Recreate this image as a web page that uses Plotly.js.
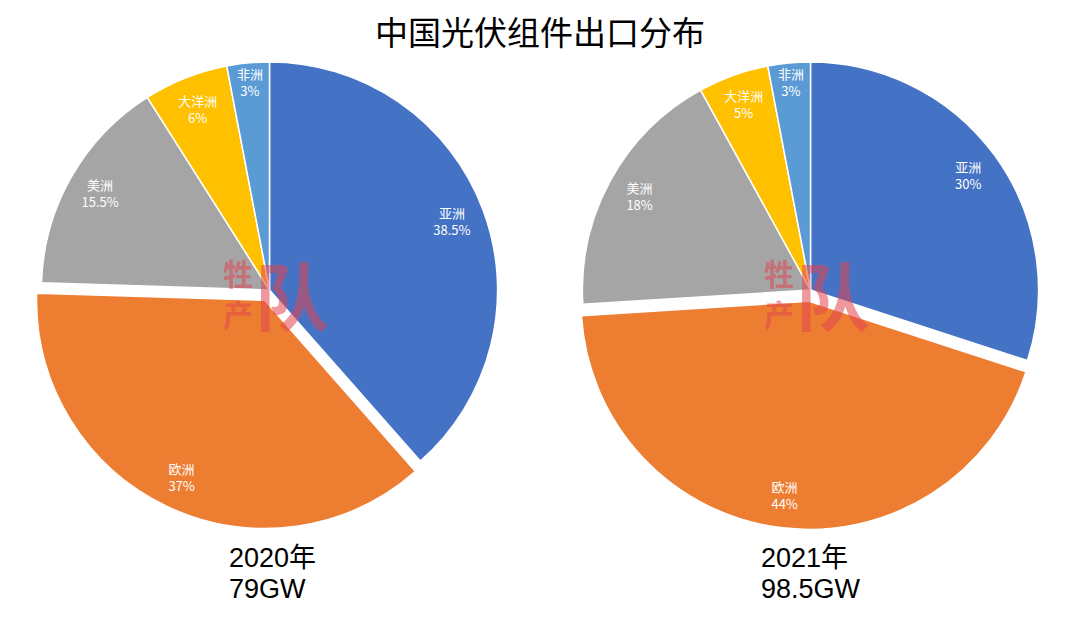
<!DOCTYPE html>
<html>
<head>
<meta charset="utf-8">
<script src="https://cdn.plot.ly/plotly-3.0.1.min.js"></script>
<style>html,body{margin:0;padding:0;background:#fff;}#chart{width:1080px;height:622px;}</style>
</head>
<body>
<div id="chart"></div>
<script>
// ---- data ----
const regions = ['亚洲', '欧洲', '美洲', '大洋洲', '非洲'];
const share2020 = [38.5, 37, 15.5, 6, 3];
const share2021 = [30, 44, 18, 5, 3];
const yearLabels = ['2020年', '2021年'];
const totalLabels = ['79GW', '98.5GW'];
const chartTitle = '中国光伏组件出口分布';
const watermark = ['牲', '产', '队'];

// ---- styles ----
const colors = ['#4472C4', '#ED7D31', '#A5A5A5', '#FFC000', '#5B9BD5'];
const pulls = [0, 0.05, 0, 0, 0];
const W = 1080, H = 622;
const cjk = '"Noto Sans CJK SC", "Noto Sans", sans-serif';
const domains = [
  {x: [30 / W, 509 / W], y: [1 - 529.5 / H, 1 - 50.5 / H]},
  {x: [571 / W, 1050 / W], y: [1 - 529.5 / H, 1 - 50.5 / H]}
];
const centersPx = [269.5, 810.5];
const captionLeftPx = [227, 759];
const series = [share2020, share2021];

const traces = [];
series.forEach((vals, i) => {
  traces.push({
    type: 'pie', values: vals, labels: regions, sort: false,
    direction: 'clockwise', rotation: 0, pull: pulls,
    domain: domains[i],
    marker: {colors: colors, line: {color: '#ffffff', width: 1.5}},
    textinfo: 'none', hoverinfo: 'label+value', showlegend: false
  });
  // transparent ring used only to place labels near the outer edge
  traces.push({
    type: 'pie', values: vals, labels: regions, sort: false,
    direction: 'clockwise', rotation: 0, pull: pulls, hole: 0.71,
    domain: domains[i],
    marker: {colors: regions.map(() => 'rgba(0,0,0,0)'), line: {width: 0}},
    texttemplate: '%{label}<br>%{value}%',
    textposition: 'inside', insidetextorientation: 'horizontal',
    textfont: {family: cjk, size: 13, color: '#ffffff'},
    hoverinfo: 'skip', showlegend: false
  });
});

const annotations = [];
centersPx.forEach((cx, i) => {
  const capFont = {family: 'Liberation Sans, Arial, ' + cjk, size: 27, color: '#000'};
  annotations.push({xref: 'paper', yref: 'paper', x: captionLeftPx[i] / W, y: 1 - 558 / H,
    xanchor: 'left', yanchor: 'middle', showarrow: false, text: yearLabels[i], font: capFont});
  annotations.push({xref: 'paper', yref: 'paper', x: captionLeftPx[i] / W, y: 1 - 589 / H,
    xanchor: 'left', yanchor: 'middle', showarrow: false, text: totalLabels[i], font: capFont});
  // watermark
  const wmFont = {family: cjk, color: 'rgba(225,70,80,0.55)', weight: 900};
  annotations.push({xref: 'paper', yref: 'paper', x: (cx - 32) / W, y: 1 - 272 / H,
    xanchor: 'center', yanchor: 'middle', showarrow: false,
    text: '<b>' + watermark[0] + '</b>', font: Object.assign({size: 30}, wmFont)});
  annotations.push({xref: 'paper', yref: 'paper', x: (cx - 32) / W, y: 1 - 313 / H,
    xanchor: 'center', yanchor: 'middle', showarrow: false,
    text: '<b>' + watermark[1] + '</b>', font: Object.assign({size: 30}, wmFont)});
  annotations.push({xref: 'paper', yref: 'paper', x: (cx + 22) / W, y: 1 - 292 / H,
    xanchor: 'center', yanchor: 'middle', showarrow: false,
    text: '<b>' + watermark[2] + '</b>', font: Object.assign({size: 74}, wmFont)});
});

const layout = {
  width: W, height: H,
  margin: {l: 0, r: 0, t: 0, b: 0},
  paper_bgcolor: '#ffffff', plot_bgcolor: '#ffffff',
  title: {text: chartTitle, x: 0.5, xanchor: 'center', y: 1 - 33 / H, yanchor: 'middle',
    font: {family: cjk, size: 33, color: '#000000'}},
  showlegend: false,
  uniformtext: {mode: 'show', minsize: 13},
  annotations: annotations
};

Plotly.newPlot('chart', traces, layout, {displayModeBar: false, staticPlot: true});
</script>
</body>
</html>
